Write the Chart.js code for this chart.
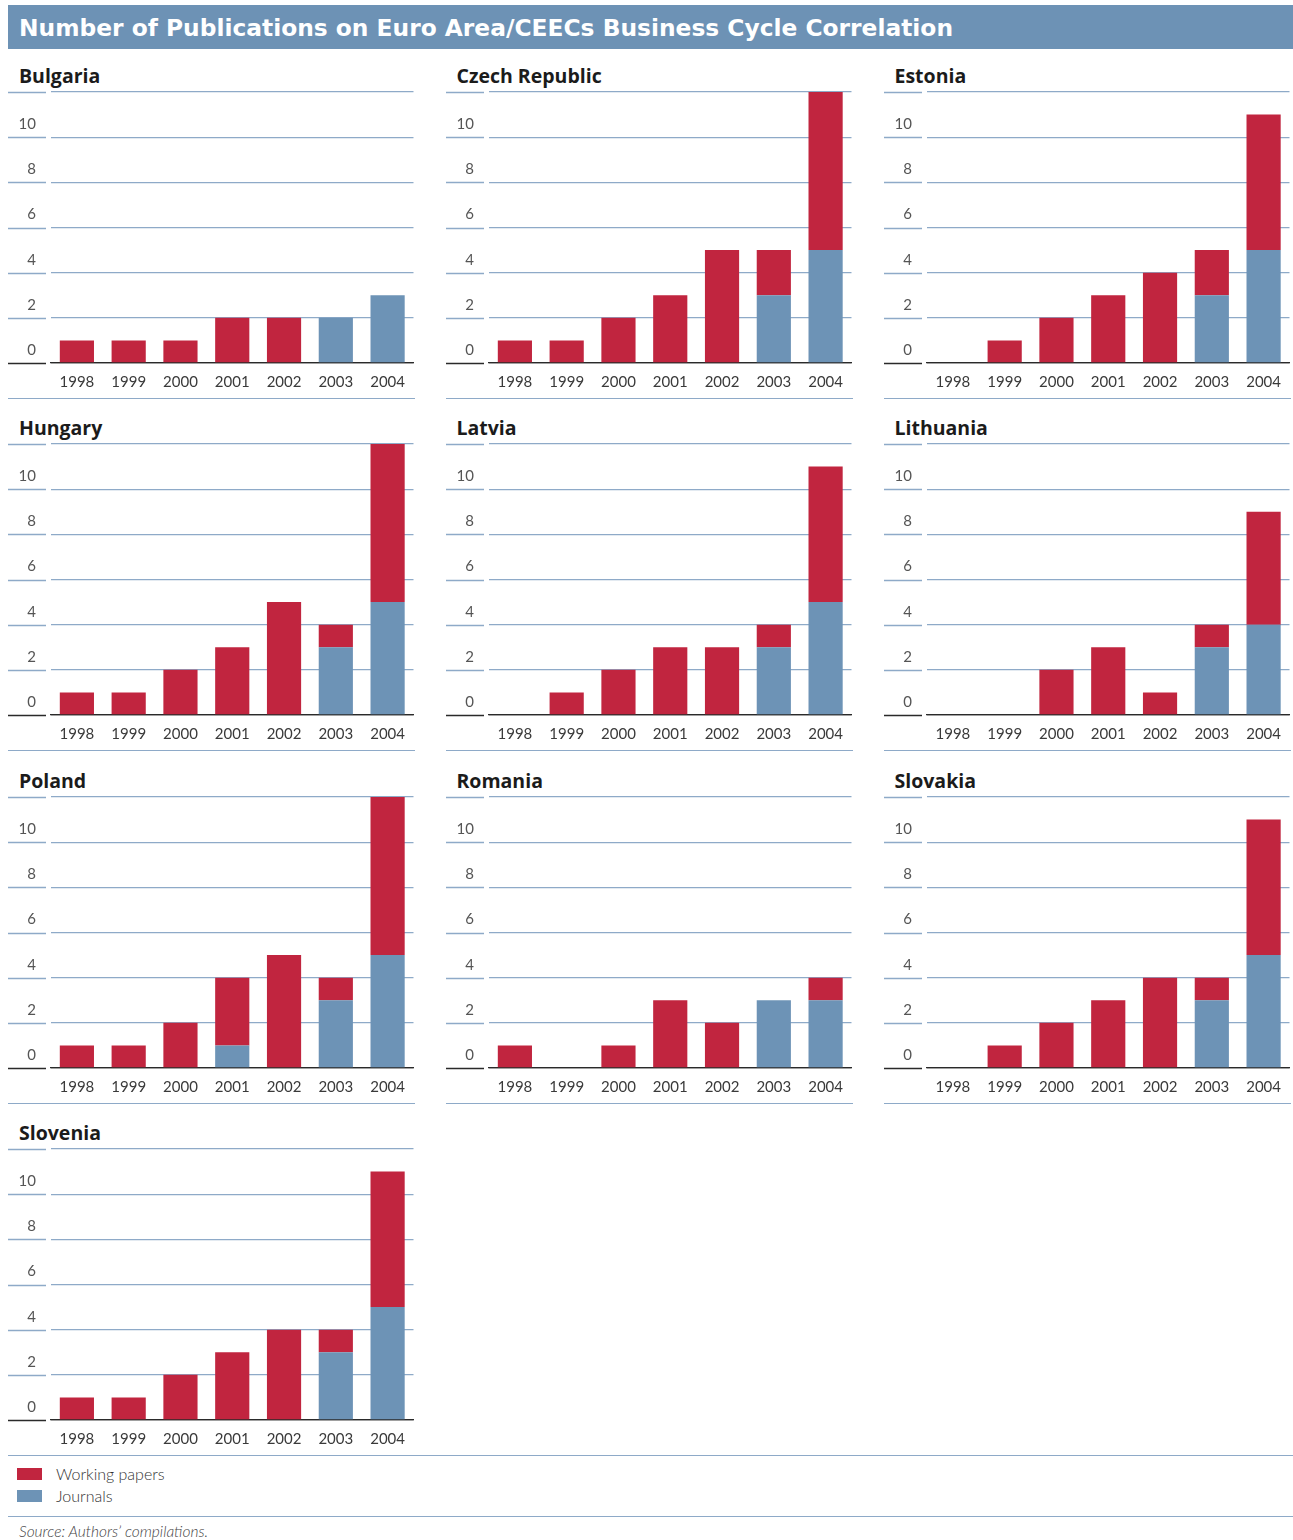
<!DOCTYPE html>
<html>
<head>
<meta charset="utf-8">
<script src="https://cdn.jsdelivr.net/npm/chart.js@4.4.1/dist/chart.umd.min.js"></script>
<style>
html,body{margin:0;padding:0;background:#fff;}
body{width:1293px;height:1540px;position:relative;font-family:Lato,"Open Sans",sans-serif;overflow:hidden;}
#header{position:absolute;left:8px;top:5px;width:1285px;height:44px;background:#6d92b5;}
#htext{position:absolute;left:11px;top:0;color:#fff;font-family:"DejaVu Sans",sans-serif;font-weight:700;font-size:23px;line-height:46px;white-space:nowrap;transform-origin:0 50%;}
.ptitle{position:absolute;font-family:"Open Sans",sans-serif;font-weight:700;font-size:19.5px;color:#1b1b1b;line-height:24px;white-space:nowrap;}
.cwrap{position:absolute;width:407px;height:327px;}
.hline{position:absolute;height:0;border-top:1.5px solid #8eaac8;}
.sw{position:absolute;width:25px;height:12px;}
.ltext{position:absolute;font-size:16px;color:#333;line-height:20px;font-weight:300;}
#source{position:absolute;left:19px;top:1521px;font-size:15.5px;font-style:italic;color:#444;line-height:20px;font-weight:300;}
</style>
</head>
<body>
<div id="header"><span id="htext">Number of Publications on Euro Area/CEECs Business Cycle Correlation</span></div>
<div id="panels"></div>
<div class="sw" style="left:17px;top:1468px;background:#c1253f;"></div>
<div class="ltext" style="left:56px;top:1464px;">Working papers</div>
<div class="sw" style="left:17px;top:1490px;background:#6d93b6;"></div>
<div class="ltext" style="left:56px;top:1486px;">Journals</div>
<div class="hline" style="left:8px;top:1516px;width:1285px;"></div>
<div id="source">Source: Authors’ compilations.</div>
<script>
const years = ['1998','1999','2000','2001','2002','2003','2004'];
const countries = ['Bulgaria','Czech Republic','Estonia','Hungary','Latvia','Lithuania','Poland','Romania','Slovakia','Slovenia'];

const bulgariaWorking  = [1,1,1,2,2,0,0];
const bulgariaJournals = [0,0,0,0,0,2,3];
const czechWorking     = [1,1,2,3,5,2,7];
const czechJournals    = [0,0,0,0,0,3,5];
const estoniaWorking   = [0,1,2,3,4,2,6];
const estoniaJournals  = [0,0,0,0,0,3,5];
const hungaryWorking   = [1,1,2,3,5,1,7];
const hungaryJournals  = [0,0,0,0,0,3,5];
const latviaWorking    = [0,1,2,3,3,1,6];
const latviaJournals   = [0,0,0,0,0,3,5];
const lithuaniaWorking = [0,0,2,3,1,1,5];
const lithuaniaJournals= [0,0,0,0,0,3,4];
const polandWorking    = [1,1,2,3,5,1,7];
const polandJournals   = [0,0,0,1,0,3,5];
const romaniaWorking   = [1,0,1,3,2,0,1];
const romaniaJournals  = [0,0,0,0,0,3,3];
const slovakiaWorking  = [0,1,2,3,4,1,6];
const slovakiaJournals = [0,0,0,0,0,3,5];
const sloveniaWorking  = [1,1,2,3,4,1,6];
const sloveniaJournals = [0,0,0,0,0,3,5];

const workingSeries = [bulgariaWorking,czechWorking,estoniaWorking,hungaryWorking,latviaWorking,lithuaniaWorking,polandWorking,romaniaWorking,slovakiaWorking,sloveniaWorking];
const journalSeries = [bulgariaJournals,czechJournals,estoniaJournals,hungaryJournals,latviaJournals,lithuaniaJournals,polandJournals,romaniaJournals,slovakiaJournals,sloveniaJournals];

const RED = '#c1253f', BLUE = '#6d93b6', GRID = '#8eaac8', DARK = '#2a2a2a';

// fit header text width to the reference span
(function(){
  const h = document.getElementById('htext');
  const target = 934;
  const w = h.getBoundingClientRect().width;
  h.style.transform = 'scaleX(' + (target / w) + ')';
})();

const stubLines = {
  id: 'stubLines',
  beforeDatasetsDraw(chart) {
    const y = chart.scales.y, ctx = chart.ctx;
    ctx.save();
    y.ticks.forEach(t => {
      const py = Math.round(y.getPixelForValue(t.value)) + 0.5;
      ctx.strokeStyle = t.value === 0 ? DARK : GRID;
      ctx.lineWidth = 1.3;
      ctx.beginPath();
      ctx.moveTo(0, py);
      ctx.lineTo(chart.chartArea.left - 5, py);
      ctx.stroke();
    });
    ctx.restore();
  }
};

const panels = document.getElementById('panels');
const colLeft = [8, 445.5, 883.5];
countries.forEach((name, i) => {
  const col = i % 3, row = Math.floor(i / 3);
  const left = colLeft[col];
  const titleC = 76 + row * 352.3;
  const t = document.createElement('div');
  t.className = 'ptitle';
  t.style.left = (left + 11) + 'px';
  t.style.top = (titleC - 12) + 'px';
  t.textContent = name;
  panels.appendChild(t);

  const w = document.createElement('div');
  w.className = 'cwrap';
  w.style.left = left + 'px';
  w.style.top = (titleC - 7) + 'px';
  const c = document.createElement('canvas');
  c.width = 407; c.height = 327;
  c.style.width = '407px'; c.style.height = '327px';
  w.appendChild(c);
  panels.appendChild(w);

  const hl = document.createElement('div');
  hl.className = 'hline';
  if (row < 3) {
    hl.style.left = left + 'px';
    hl.style.width = '407px';
  } else {
    hl.style.left = '8px';
    hl.style.width = '1285px';
  }
  hl.style.top = (titleC + 322) + 'px';
  panels.appendChild(hl);

  const chart = new Chart(c, {
    type: 'bar',
    data: {
      labels: years,
      datasets: [
        { label: 'Journals', data: journalSeries[i], backgroundColor: BLUE, borderWidth: 0, barPercentage: 0.66, categoryPercentage: 1 },
        { label: 'Working papers', data: workingSeries[i], backgroundColor: RED, borderWidth: 0, barPercentage: 0.66, categoryPercentage: 1 }
      ]
    },
    options: {
      responsive: false,
      animation: false,
      devicePixelRatio: 1,
      layout: { padding: { top: 6, left: 0, right: 0, bottom: 0 } },
      plugins: { legend: { display: false }, tooltip: { enabled: false }, title: { display: false } },
      scales: {
        x: {
          stacked: true,
          grid: { display: false, drawTicks: false },
          border: { display: true, color: DARK, width: 1.3 },
          ticks: { color: '#3a3a3a', font: { family: 'Lato', size: 15 }, padding: 10, maxRotation: 0 },
          afterFit(s) { s.height = 32; }
        },
        y: {
          stacked: true,
          min: 0, max: 12,
          grid: {
            drawTicks: false,
            lineWidth: 1.3,
            color: ctx => (ctx.tick && ctx.tick.value === 0) ? DARK : GRID
          },
          border: { display: false },
          ticks: {
            stepSize: 2,
            padding: 15,
            labelOffset: -13,
            color: '#555',
            font: { family: 'Lato', size: 15 },
            callback: v => v === 12 ? '' : String(v)
          },
          afterFit(s) { s.width = 43; }
        }
      }
    },
    plugins: [stubLines]
  });
  // align plot top with the reference position
  const shift = (titleC + 16) - (titleC - 7 + chart.chartArea.top);
  w.style.top = (titleC - 7 + shift) + 'px';
});
</script>
</body>
</html>
